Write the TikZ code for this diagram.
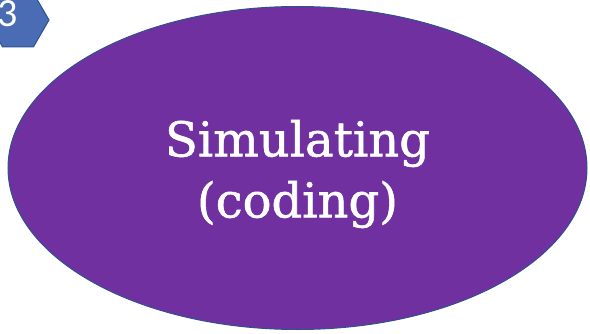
\documentclass[tikz,border=0pt]{standalone}
\usepackage{fontspec}
\setmainfont{DejaVu Serif}
\newfontfamily\stagefont[FakeBold=1.2]{DejaVu Serif}
\newfontfamily\badgefont{Carlito}
\usetikzlibrary{shapes.geometric}
\definecolor{stagefill}{HTML}{7030A0}
\definecolor{stageline}{HTML}{2F528F}
\definecolor{badgefill}{HTML}{4A6CB5}
\tikzset{
  stage/.style={ellipse, fill=stagefill, draw=stageline, line width=1pt,
    minimum width=579pt, minimum height=323pt, inner sep=0pt},
  stagetext/.style={text=white, align=center, inner sep=0pt,
    font=\stagefont\fontsize{48}{61}\selectfont},
  badge/.style={regular polygon, regular polygon sides=6, shape border rotate=0,
    fill=badgefill, draw=stageline, line width=1pt, minimum size=62pt,
    inner sep=0pt},
  badgetext/.style={text=white, anchor=base, font=\badgefont\fontsize{40}{40}\selectfont}
}
\begin{document}
\begin{tikzpicture}[x=1pt,y=1pt]
  \useasboundingbox (0,0) rectangle (590,333);
  \clip (0,0) rectangle (590,333);
  % stage ellipse with its two-line caption
  \node[stage] (sim) at (297.5,165) {};
  \node[stagetext] (simtext) at (297.5,159) {Simulating\\(coding)};
  % numbered hexagon badge, cut by the corner
  \node[badge] (num) at (18,313) {};
  \node[badgetext] (numtxt) at (8,306) {3};
\end{tikzpicture}
\end{document}
